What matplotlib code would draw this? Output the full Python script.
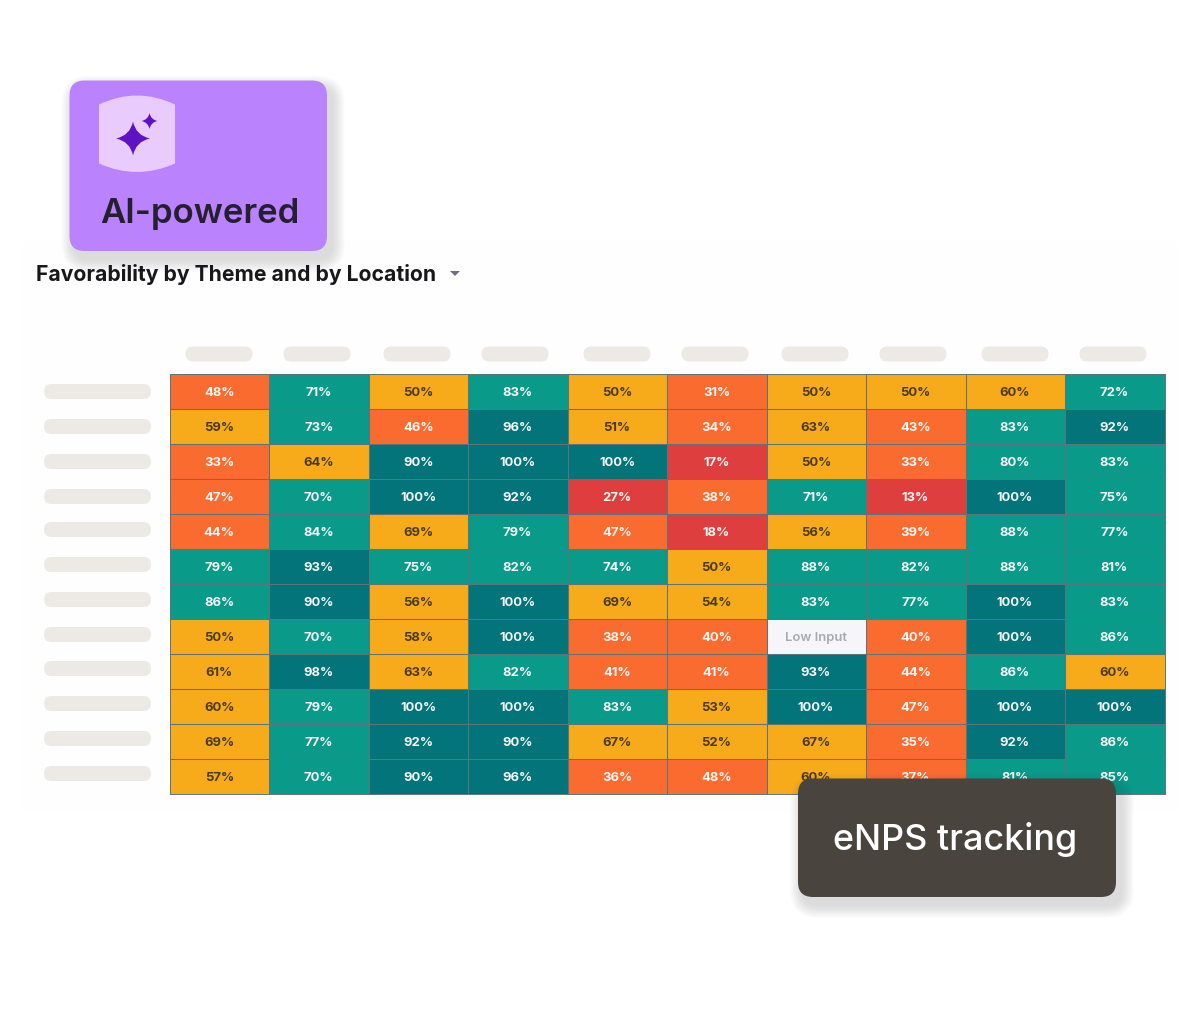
import matplotlib
matplotlib.use("Agg")
import matplotlib.pyplot as plt
import numpy as np
from matplotlib.colors import BoundaryNorm, ListedColormap
from matplotlib.patches import FancyBboxPatch, PathPatch, Polygon
from matplotlib.path import Path

plt.rcParams["font.family"] = ["Inter", "DejaVu Sans"]

# -------------------------
# Data
# -------------------------
row1 = [48, 71, 50, 83, 50, 31, 50, 50, 60, 72]
row2 = [59, 73, 46, 96, 51, 34, 63, 43, 83, 92]
row3 = [33, 64, 90, 100, 100, 17, 50, 33, 80, 83]
row4 = [47, 70, 100, 92, 27, 38, 71, 13, 100, 75]
row5 = [44, 84, 69, 79, 47, 18, 56, 39, 88, 77]
row6 = [79, 93, 75, 82, 74, 50, 88, 82, 88, 81]
row7 = [86, 90, 56, 100, 69, 54, 83, 77, 100, 83]
row8 = [50, 70, 58, 100, 38, 40, np.nan, 40, 100, 86]
row9 = [61, 98, 63, 82, 41, 41, 93, 44, 86, 60]
row10 = [60, 79, 100, 100, 83, 53, 100, 47, 100, 100]
row11 = [69, 77, 92, 90, 67, 52, 67, 35, 92, 86]
row12 = [57, 70, 90, 96, 36, 48, 60, 37, 81, 85]
values = np.array([row1, row2, row3, row4, row5, row6, row7, row8, row9, row10, row11, row12])

band_edges = [0, 30, 50, 70, 90, 101]
band_colors = ["#DE3E3D", "#F96B2F", "#F7AB1B", "#0A9A8A", "#02747A"]

title = "Favorability by Theme and by Location"
low_input = "Low Input"

# redacted label pills, pixel centres
col_pill_x = [219, 317, 417, 515, 617, 715, 815, 913, 1015, 1113]
row_pill_y = [392, 427, 462, 497, 530, 565, 600, 635, 669, 704, 739, 774]

W, H = 1200, 1020
fig = plt.figure(figsize=(W / 100, H / 100), dpi=100, facecolor="white")

# page layer in pixel coordinates
bg = fig.add_axes([0, 0, 1, 1], zorder=0)
bg.set_xlim(0, W)
bg.set_ylim(H, 0)
bg.axis("off")


def rbox(ax, x0, y0, x1, y1, r, **kw):
    p = FancyBboxPatch((x0 + r, y0 + r), x1 - x0 - 2 * r, y1 - y0 - 2 * r,
                       boxstyle=f"round,pad={r},rounding_size={r}", linewidth=0, **kw)
    ax.add_patch(p)
    return p


def soft_shadow(ax, x0, y0, x1, y1, r, dx=5, dy=8, blur=13, strength=0.013):
    # stacked translucent boxes, poor man's blur
    for i in range(blur, 0, -1):
        rbox(ax, x0 + dx - i, y0 + dy - i, x1 + dx + i, y1 + dy + i, r + i,
             facecolor="#3c3c3c", alpha=strength)


def star(cx, cy, rad):
    k = 0.17 * rad
    verts = [(cx, cy - rad), (cx + k, cy - k), (cx + rad, cy),
             (cx + k, cy + k), (cx, cy + rad), (cx - k, cy + k),
             (cx - rad, cy), (cx - k, cy - k), (cx, cy - rad)]
    codes = [Path.MOVETO] + [Path.CURVE3] * 8
    return Path(verts, codes)


# card behind the heatmap
rbox(bg, 20, 241, 1180, 815, 18, facecolor="#FEFEFE")

bg.text(36, 274.5, title, fontsize=15.2, fontweight="bold", color="#17171C",
        ha="left", va="center")
bg.add_patch(Polygon([(450, 272), (460, 272), (455, 277)], closed=True,
                     facecolor="#6F6F80", edgecolor="none"))

for x in col_pill_x:
    rbox(bg, x - 33.5, 347.5, x + 33.5, 362.5, 7.5, facecolor="#EDEAE5")
for y in row_pill_y:
    rbox(bg, 44, y - 7, 151, y + 8, 7.5, facecolor="#EDEAE5")

# -------------------------
# Heatmap
# -------------------------
ax = fig.add_axes([170 / W, 1 - 795 / H, 994.5 / W, 420 / H], zorder=1)
cmap = ListedColormap(band_colors)
cmap.set_bad("#F5F5FA")
norm = BoundaryNorm(band_edges, cmap.N)
n_rows, n_cols = values.shape
ax.pcolormesh(np.arange(n_cols + 1), np.arange(n_rows + 1), np.ma.masked_invalid(values),
              cmap=cmap, norm=norm)
# cell borders as separate lines, mesh edges drop out between same coloured cells
ax.hlines(np.arange(1, n_rows), 0, n_cols, color="#5E7478", linewidth=0.75)
ax.vlines(np.arange(1, n_cols), 0, n_rows, color="#5E7478", linewidth=0.75)
ax.set_xlim(0, n_cols)
ax.set_ylim(n_rows, 0)
ax.set_xticks([])
ax.set_yticks([])
for s in ax.spines.values():
    s.set_color("#5E7478")
    s.set_linewidth(0.7)

for i in range(n_rows):
    for j in range(n_cols):
        v = values[i, j]
        if np.isnan(v):
            ax.text(j + 0.495, i + 0.51, low_input, ha="center", va="center",
                    fontsize=9.4, color="#A9A9B6", fontweight="semibold")
            continue
        amber = 50 <= v < 70
        ax.text(j + 0.495, i + 0.51, f"{int(v)}%", ha="center", va="center",
                fontsize=9.4, fontweight="bold",
                color="#4A3A1E" if amber else "#F6F8F7")

# -------------------------
# Badges on top
# -------------------------
fg = fig.add_axes([0, 0, 1, 1], zorder=2)
fg.set_xlim(0, W)
fg.set_ylim(H, 0)
fg.axis("off")
fg.patch.set_alpha(0)

# purple badge
soft_shadow(fg, 69.5, 81.5, 327, 252, 15)
rbox(fg, 69.5, 81.5, 327, 252, 15, facecolor="#BB82FE")
icon = Path([(99, 105.5), (137, 87.5), (175, 105.5), (175, 164.5), (137, 181.5), (99, 164.5), (99, 105.5)],
            [Path.MOVETO, Path.CURVE3, Path.CURVE3, Path.LINETO, Path.CURVE3, Path.CURVE3, Path.CLOSEPOLY])
fg.add_patch(PathPatch(icon, facecolor="#E9CBFE", edgecolor="none"))
fg.add_patch(PathPatch(star(133, 139.5, 17), facecolor="#5F12C4", edgecolor="none"))
fg.add_patch(PathPatch(star(149.5, 122, 8), facecolor="#5F12C4", edgecolor="none"))
fg.text(199.5, 214, "AI-powered", fontsize=25, fontweight="semibold", color="#24202E",
        ha="center", va="center")

# dark badge
soft_shadow(fg, 798, 779.5, 1116, 898, 15)
rbox(fg, 798, 779.5, 1116, 898, 15, facecolor="#4A443E")
fg.text(955.5, 840, "eNPS tracking", fontsize=25.8, fontweight="medium", color="#FFFFFF",
        ha="center", va="center")

fig.savefig("out.png", dpi=100)
